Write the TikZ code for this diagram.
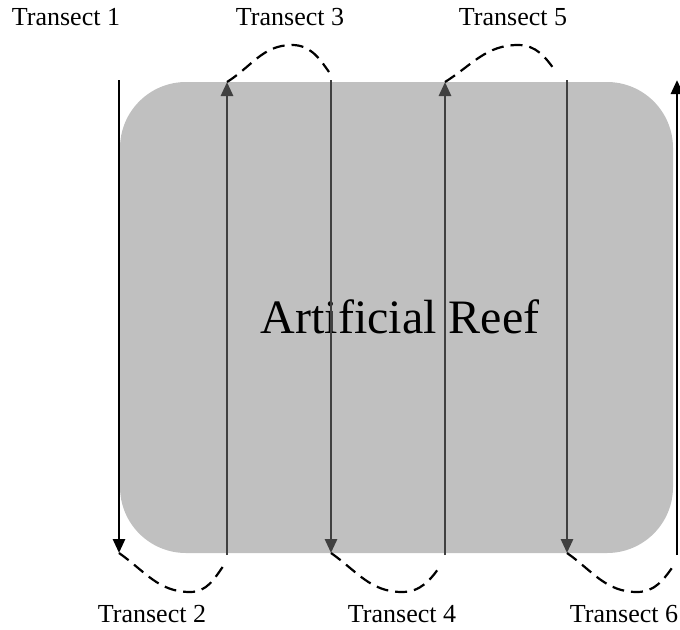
\documentclass[tikz,border=0pt]{standalone}
\usepackage{fontspec}
\setmainfont{Liberation Serif}
\usetikzlibrary{arrows.meta}
\definecolor{reefgray}{HTML}{C0C0C0}
\definecolor{linegray}{HTML}{404040}
\begin{document}
\begin{tikzpicture}[x=0.5pt,y=0.5pt,
  reef/.style={fill=reefgray,draw=none,rounded corners=33pt},
  tline/.style={line width=1.4pt,draw=linegray,-{Triangle[length=7pt,width=6pt]}},
  tblack/.style={tline,draw=black},
  hop/.style={line width=1.1pt,dash pattern=on 6pt off 3.5pt},
  lab/.style={font=\fontsize{13}{15}\selectfont,anchor=base,inner sep=0pt},
  big/.style={font=\fontsize{24}{28}\selectfont,anchor=base,inner sep=0pt}]
\useasboundingbox (0,0) rectangle (680,629);
\fill[reef] (120,76) rectangle (673,547);
\node[big] (reef) at (400,296) {Artificial Reef};
% line ends
\coordinate (s1) at (119,549); \coordinate (e1) at (119,76);
\coordinate (s2) at (227,74);  \coordinate (e2) at (227,547);
\coordinate (s3) at (331,549); \coordinate (e3) at (331,76);
\coordinate (s4) at (445,74);  \coordinate (e4) at (445,547);
\coordinate (s5) at (567,549); \coordinate (e5) at (567,76);
\coordinate (s6) at (677,74);  \coordinate (e6) at (677,549);
\draw[tblack] (s1) -- (e1);
\draw[tline] (s2) -- (e2);
\draw[tline] (s3) -- (e3);
\draw[tline] (s4) -- (e4);
\draw[tline] (s5) -- (e5);
\draw[tblack] (s6) -- (e6);
% dashed hops
\coordinate (b1) at (190,37); \coordinate (h1) at (224,64);
\coordinate (p3) at (292,584); \coordinate (h3) at (329,557);
\coordinate (b4) at (402,37); \coordinate (h4) at (441,64);
\coordinate (p5) at (518,584); \coordinate (h5) at (556,557);
\coordinate (b6) at (637,37); \coordinate (h6) at (674,64);
\draw[hop] (e1) to[out=-35,in=180] (b1) to[out=0,in=-125] (h1);
\draw[hop] (e2) to[out=32,in=180] (p3) to[out=0,in=125] (h3);
\draw[hop] (e3) to[out=-35,in=180] (b4) to[out=0,in=-125] (h4);
\draw[hop] (e4) to[out=32,in=180] (p5) to[out=0,in=125] (h5);
\draw[hop] (e5) to[out=-35,in=180] (b6) to[out=0,in=-125] (h6);
% labels
\node[lab] (t1) at (66,604) {Transect 1};
\node[lab] (t3) at (290,604) {Transect 3};
\node[lab] (t5) at (513,604) {Transect 5};
\node[lab] (t2) at (152,7) {Transect 2};
\node[lab] (t4) at (402,7) {Transect 4};
\node[lab] (t6) at (624,7) {Transect 6};
\end{tikzpicture}
\end{document}
